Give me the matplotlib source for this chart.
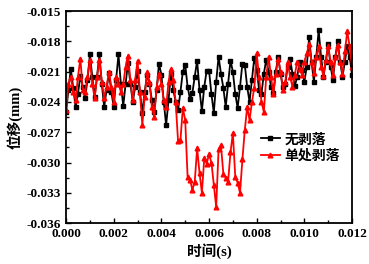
import numpy as np
import matplotlib
matplotlib.use("Agg")
import matplotlib.pyplot as plt
from matplotlib.ticker import MultipleLocator, FormatStrFormatter

plt.rcParams['font.family'] = ['Liberation Serif', 'Noto Sans CJK SC']
plt.rcParams['font.weight'] = 'bold'

# time axis, 0.0001 s step
t = np.arange(121) * 0.0001

# 无剥落
no_spall = [
    -0.0250, -0.0228, -0.0207, -0.0226, -0.0245, -0.0232, -0.0214, -0.0225, -0.0236, -0.0218,
    -0.0193, -0.0215, -0.0235, -0.0215, -0.0193, -0.0222, -0.0245, -0.0228, -0.0211, -0.0230,
    -0.0245, -0.0218, -0.0193, -0.0222, -0.0244, -0.0222, -0.0201, -0.0222, -0.0240, -0.0225,
    -0.0209, -0.0230, -0.0251, -0.0230, -0.0213, -0.0222, -0.0238, -0.0250, -0.0228, -0.0202,
    -0.0213, -0.0240, -0.0263, -0.0238, -0.0212, -0.0228, -0.0240, -0.0248, -0.0230, -0.0210,
    -0.0203, -0.0225, -0.0237, -0.0231, -0.0215, -0.0199, -0.0228, -0.0249, -0.0225, -0.0209,
    -0.0209, -0.0232, -0.0251, -0.0220, -0.0195, -0.0212, -0.0226, -0.0245, -0.0222, -0.0199,
    -0.0210, -0.0232, -0.0246, -0.0225, -0.0202, -0.0203, -0.0225, -0.0240, -0.0218, -0.0196,
    -0.0208, -0.0228, -0.0232, -0.0212, -0.0198, -0.0210, -0.0225, -0.0231, -0.0210, -0.0195,
    -0.0212, -0.0225, -0.0222, -0.0205, -0.0197, -0.0212, -0.0224, -0.0215, -0.0200, -0.0208,
    -0.0220, -0.0205, -0.0176, -0.0200, -0.0220, -0.0195, -0.0169, -0.0195, -0.0215, -0.0200,
    -0.0183, -0.0205, -0.0218, -0.0195, -0.0180, -0.0200, -0.0215, -0.0200, -0.0185, -0.0195,
    -0.0213,
]

# 单处剥落
one_spall = [
    -0.0248, -0.0222, -0.0215, -0.0230, -0.0238, -0.0215, -0.0197, -0.0228, -0.0230, -0.0215,
    -0.0198, -0.0222, -0.0236, -0.0215, -0.0198, -0.0220, -0.0236, -0.0225, -0.0210, -0.0225,
    -0.0240, -0.0215, -0.0222, -0.0230, -0.0222, -0.0205, -0.0194, -0.0218, -0.0238, -0.0218,
    -0.0199, -0.0230, -0.0263, -0.0235, -0.0210, -0.0220, -0.0245, -0.0255, -0.0225, -0.0212,
    -0.0222, -0.0238, -0.0245, -0.0220, -0.0207, -0.0218, -0.0240, -0.0279, -0.0278, -0.0246,
    -0.0258, -0.0314, -0.0317, -0.0327, -0.0319, -0.0286, -0.0310, -0.0330, -0.0296, -0.0301,
    -0.0292, -0.0300, -0.0322, -0.0344, -0.0287, -0.0283, -0.0311, -0.0315, -0.0319, -0.0290,
    -0.0271, -0.0314, -0.0320, -0.0330, -0.0297, -0.0268, -0.0245, -0.0258, -0.0240, -0.0226,
    -0.0192, -0.0215, -0.0240, -0.0250, -0.0215, -0.0195, -0.0215, -0.0232, -0.0212, -0.0197,
    -0.0210, -0.0228, -0.0220, -0.0200, -0.0215, -0.0225, -0.0213, -0.0200, -0.0207, -0.0213,
    -0.0200, -0.0192, -0.0183, -0.0200, -0.0211, -0.0195, -0.0185, -0.0205, -0.0214, -0.0198,
    -0.0185, -0.0200, -0.0213, -0.0195, -0.0184, -0.0200, -0.0212, -0.0190, -0.0170, -0.0185,
    -0.0205,
]

fig = plt.figure(figsize=(3.69, 2.64), dpi=100)
ax = fig.add_axes([0.179, 0.155, 0.775, 0.803])

ax.plot(t, no_spall, color='black', lw=1.3, marker='s', ms=3.2, label='无剥落')
ax.plot(t, one_spall, color='red', lw=1.3, marker='^', ms=3.4, label='单处剥落')

ax.set_xlim(0, 0.012)
ax.set_ylim(-0.036, -0.015)
ax.xaxis.set_major_locator(MultipleLocator(0.002))
ax.xaxis.set_minor_locator(MultipleLocator(0.001))
ax.yaxis.set_major_locator(MultipleLocator(0.003))
ax.yaxis.set_minor_locator(MultipleLocator(0.0015))
ax.xaxis.set_major_formatter(FormatStrFormatter('%.3f'))
ax.yaxis.set_major_formatter(FormatStrFormatter('%.3f'))
ax.tick_params(which='both', direction='in', width=1.0, labelsize=9.5)
ax.tick_params(which='major', length=3.5)
ax.tick_params(which='minor', length=2)
for s in ax.spines.values():
    s.set_linewidth(1.3)

ax.set_xlabel('时间(s)', fontsize=10.5, fontweight='bold', labelpad=2)
ax.set_ylabel('位移(mm)', fontsize=10.5, fontweight='bold', labelpad=3)

ax.legend(loc='upper left', bbox_to_anchor=(0.68, 0.425), frameon=False,
          fontsize=10, handlelength=1.4, handletextpad=0.3, labelspacing=0.2,
          borderpad=0, borderaxespad=0)

fig.savefig('out.png', dpi=100)
